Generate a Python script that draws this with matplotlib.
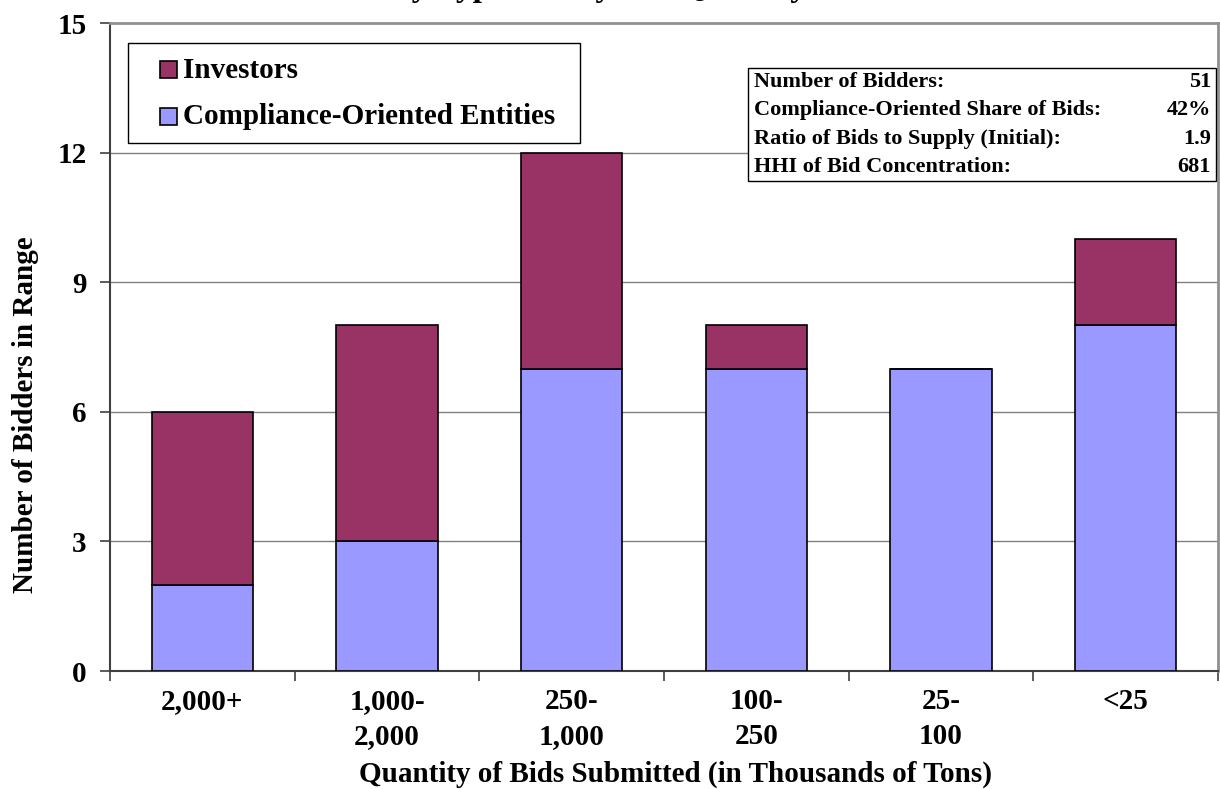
import numpy as np
import matplotlib.pyplot as plt
from matplotlib.patches import Rectangle

categories = ["2,000+", "1,000-\n2,000", "250-\n1,000", "100-\n250", "25-\n100", "<25"]
compliance = [2, 3, 7, 7, 7, 8]
investors = [4, 5, 5, 1, 0, 2]
series_names = ["Investors", "Compliance-Oriented Entities"]
series_colors = ["#993366", "#9999FF"]

stat_names = ["Number of Bidders:", "Compliance-Oriented Share of Bids:",
              "Ratio of Bids to Supply (Initial):", "HHI of Bid Concentration:"]
stat_values = ["51", "42%", "1.9", "681"]

plt.rcParams['font.family'] = ['Liberation Serif', 'DejaVu Serif']
plt.rcParams['font.weight'] = 'bold'

W, H = 1220, 789
fig = plt.figure(figsize=(W / 100, H / 100), dpi=100)
ax = fig.add_axes([110 / W, 1 - 671 / H, (1218 - 110) / W, (671 - 23) / H])


def fx(px):
    return px / W


def fy(py):
    return 1 - py / H


x = np.arange(len(categories))
ax.bar(x, compliance, width=0.55, color=series_colors[1], edgecolor='black', linewidth=1.2,
       zorder=3)
ax.bar(x, investors, width=0.55, bottom=compliance, color=series_colors[0], edgecolor='black',
       linewidth=1.2, zorder=3)

ax.set_xlim(-0.5, len(categories) - 0.5)
ax.set_ylim(0, 15)
ax.set_yticks(range(0, 16, 3))
ax.set_yticklabels([str(v) for v in range(0, 16, 3)], fontsize=21, fontweight='bold')
for v in range(3, 15, 3):
    ax.axhline(v, color='#808080', linewidth=1, zorder=1)

ax.set_xticks(x)
ax.set_xticklabels(categories, fontsize=21, fontweight='bold', linespacing=1.42)
ax.set_xticks(np.arange(len(categories) + 1) - 0.5, minor=True)
ax.tick_params(axis='x', which='major', length=0, pad=12)
ax.tick_params(axis='x', which='minor', length=7, width=1.2, color='#404040')
ax.tick_params(axis='y', length=7, width=1.2, color='#404040', pad=10)

for s in ['left', 'bottom']:
    ax.spines[s].set_color('#404040')
    ax.spines[s].set_linewidth(1.5)
for s in ['top', 'right']:
    ax.spines[s].set_color('#909090')
    ax.spines[s].set_linewidth(2)

ax.set_xlabel("Quantity of Bids Submitted (in Thousands of Tons)", fontsize=21,
              fontweight='bold')
ax.set_ylabel("Number of Bidders in Range", fontsize=21, fontweight='bold')
ax.xaxis.set_label_coords(0.51, -0.139)
ax.yaxis.set_label_coords(-0.064, 0.395)

# legend box drawn by hand
fig.patches.append(Rectangle((fx(128), fy(143)), fx(580) - fx(128), fy(43) - fy(143),
                             transform=fig.transFigure, facecolor='white',
                             edgecolor='black', linewidth=1, zorder=5))
for i, (name, col) in enumerate(zip(series_names, series_colors)):
    cy = 70 + 47 * i
    fig.patches.append(Rectangle((fx(160), fy(cy + 8)), fx(177) - fx(160), fy(cy - 9) - fy(cy + 8),
                                 transform=fig.transFigure, facecolor=col,
                                 edgecolor='black', linewidth=1.2, zorder=6))
    fig.text(fx(183), fy(cy), name, fontsize=21, fontweight='bold', va='center', ha='left',
             zorder=6)

# stats box
bx0, by0, bx1, by1 = 748, 68, 1216, 181
fig.patches.append(Rectangle((fx(bx0), fy(by1)), fx(bx1) - fx(bx0), fy(by0) - fy(by1),
                             transform=fig.transFigure, facecolor='white',
                             edgecolor='black', linewidth=1, zorder=5))
row_h = (by1 - by0) / len(stat_names)
for i, (n, v) in enumerate(zip(stat_names, stat_values)):
    yy = fy(by0 + row_h * (i + 0.5))
    fig.text(fx(754), yy, n, fontsize=16, fontweight='bold', va='center', ha='left', zorder=6)
    fig.text(fx(1211), yy, v, fontsize=16, fontweight='bold', va='center', ha='right', zorder=6)

# title, mostly cut off at the top edge as in the source
fig.text(fx(600), fy(-4), "by Type and by Bid Quantity", fontsize=24, fontweight='bold',
         ha='center', va='baseline')

fig.savefig('out.png', dpi=100)
